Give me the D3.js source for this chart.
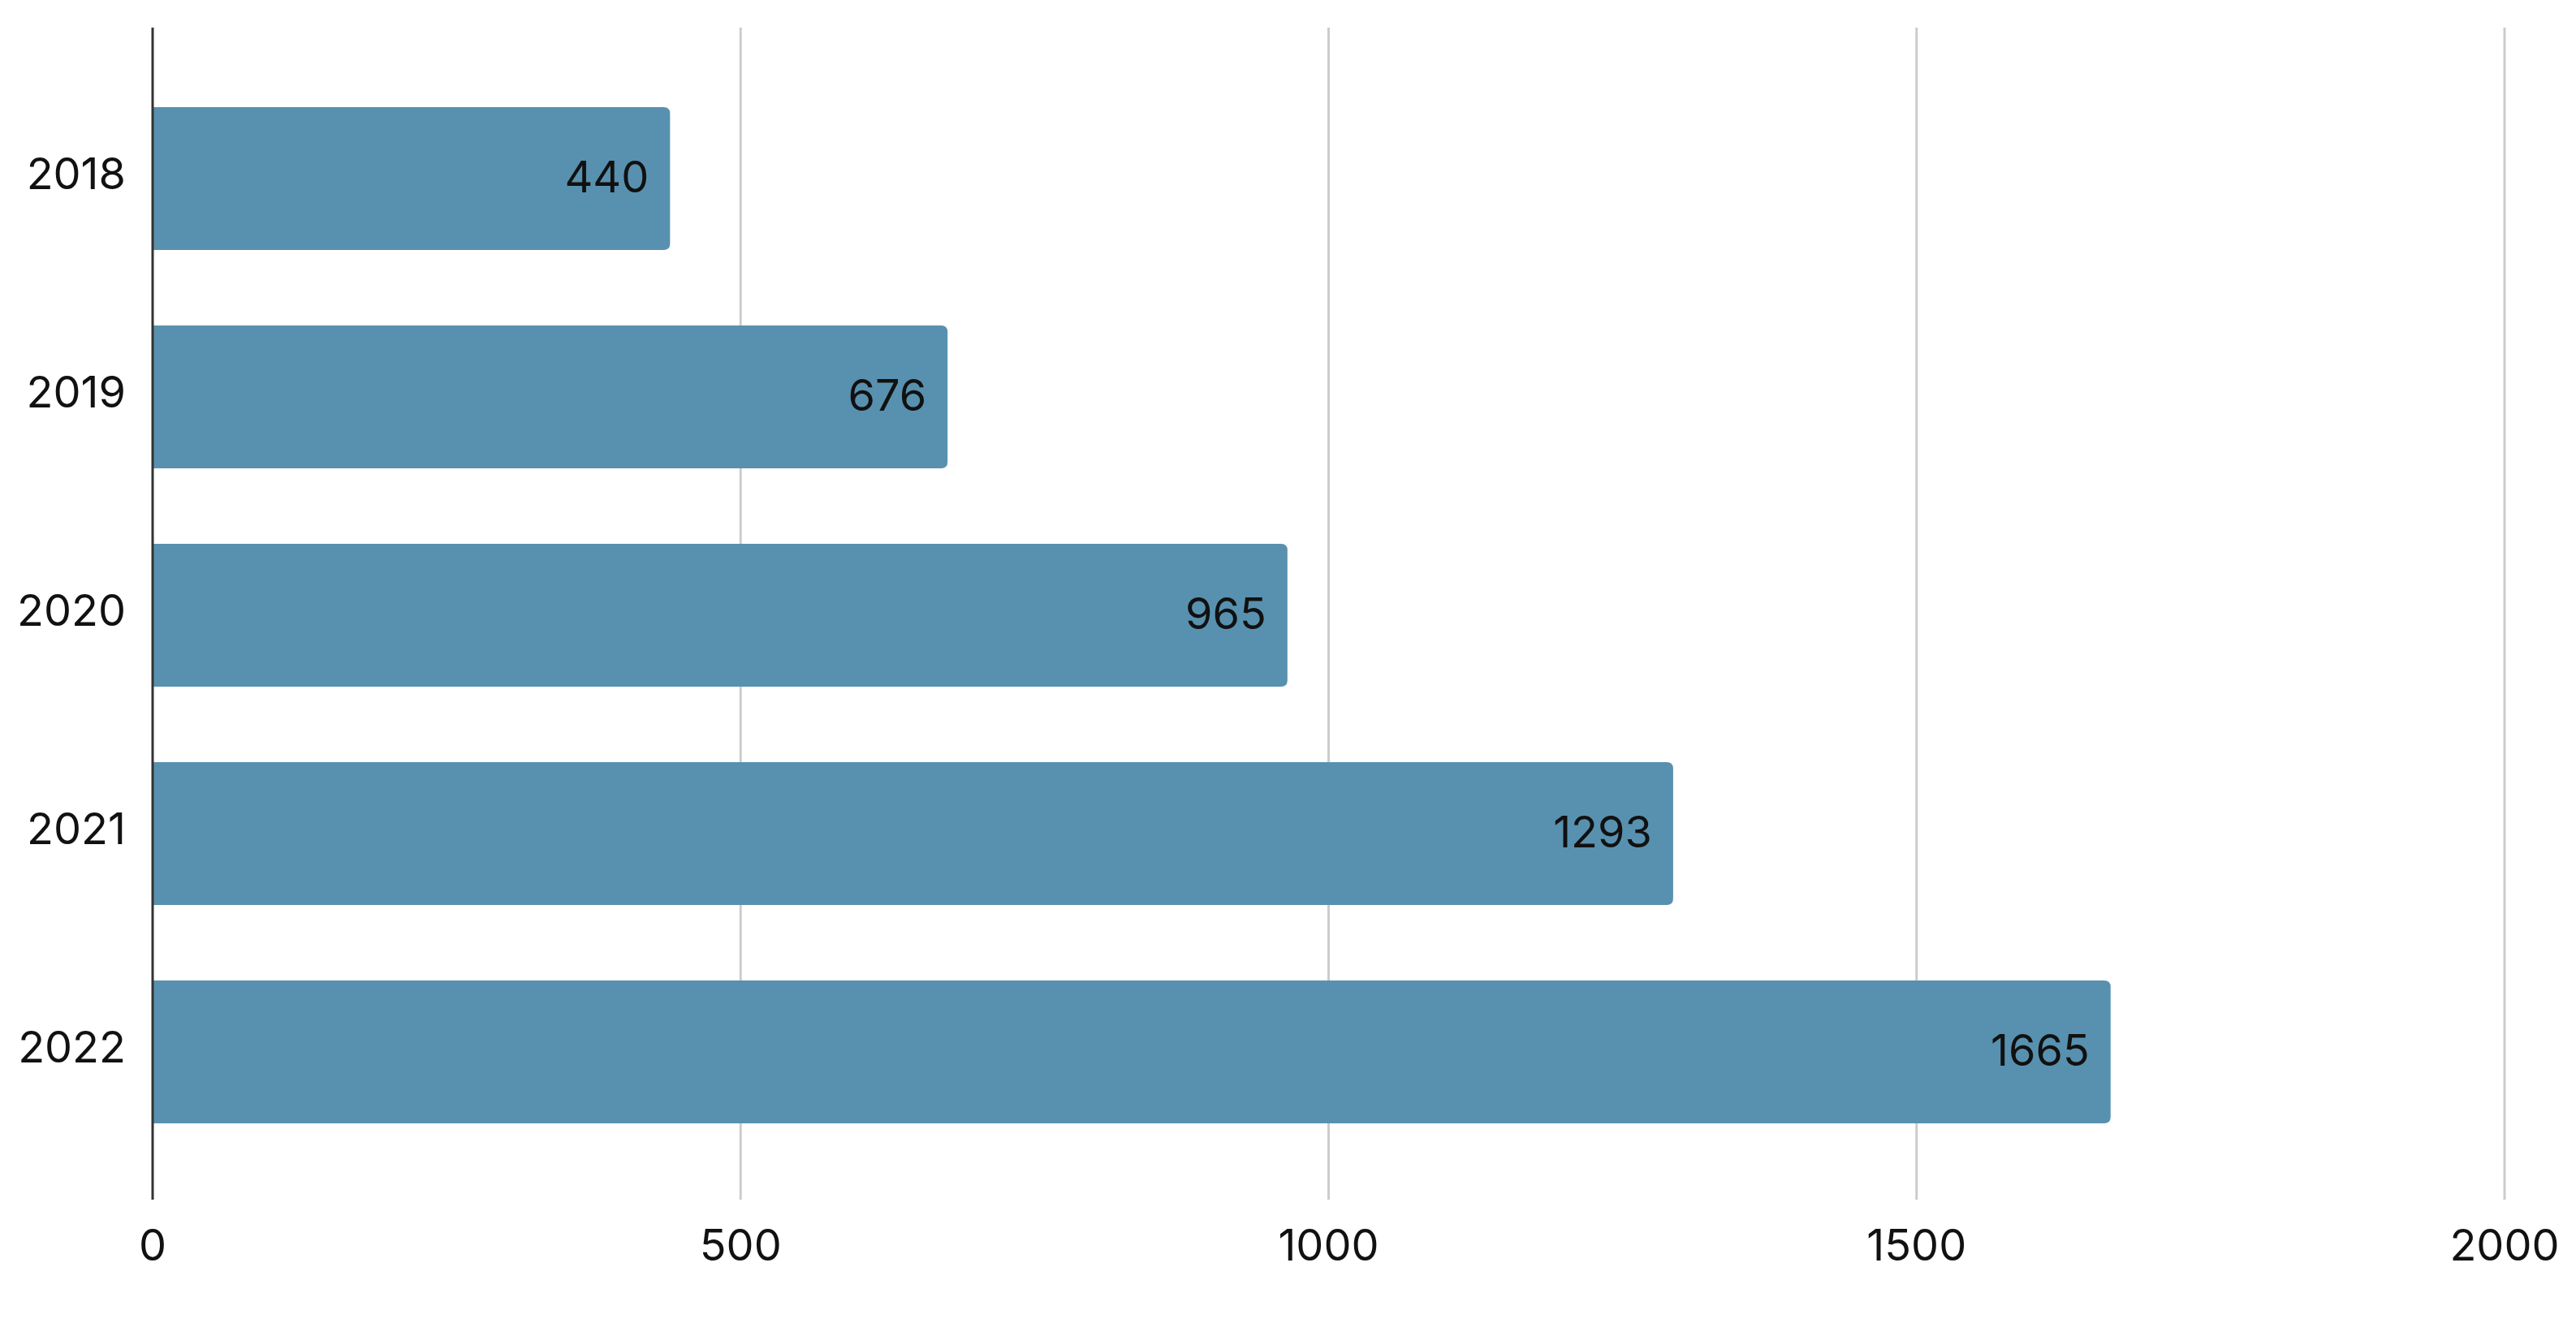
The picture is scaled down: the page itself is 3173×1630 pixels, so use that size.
<!DOCTYPE html>
<html><head><meta charset="utf-8">
<script src="https://cdn.jsdelivr.net/npm/d3@7"></script>
<style>body{margin:0;background:#fff}svg{display:block}text{font-family:Inter,"Noto Sans",sans-serif}</style>
</head><body>
<svg id="c" width="3173" height="1630"></svg>
<script>
const categories = ["2018","2019","2020","2021","2022"];
const values = [440, 676, 965, 1293, 1665];
const ticks = [0, 500, 1000, 1500, 2000];

const svg = d3.select("#c");
const x = d3.scaleLinear().domain([0, 2000]).range([188, 3085]);
const y = d3.scaleBand().domain(categories).range([85.5, 1430.5]).paddingInner(0.346).paddingOuter(0.173);
const plotTop = 34, plotBottom = 1478;

svg.append("g").selectAll("line").data(ticks.slice(1)).join("line")
  .attr("x1", d => x(d)).attr("x2", d => x(d)).attr("y1", plotTop).attr("y2", plotBottom)
  .attr("stroke", "#cccccc").attr("stroke-width", 3);

svg.append("g").selectAll("path").data(values).join("path")
  .attr("fill", "#5891AF")
  .attr("d", (d, i) => {
    const x0 = x(0), x1 = x(d), y0 = y(categories[i]), h = y.bandwidth(), r = 8;
    return `M${x0},${y0}H${x1-r}Q${x1},${y0} ${x1},${y0+r}V${y0+h-r}Q${x1},${y0+h} ${x1-r},${y0+h}H${x0}Z`;
  });

svg.append("line").attr("x1", x(0)).attr("x2", x(0)).attr("y1", plotTop).attr("y2", plotBottom)
  .attr("stroke", "#333").attr("stroke-width", 3);

svg.append("g").selectAll("text").data(values).join("text")
  .attr("x", d => x(d) - 26).attr("y", (d, i) => y(categories[i]) + y.bandwidth()/2 + 2)
  .attr("text-anchor", "end").attr("dominant-baseline", "middle")
  .attr("font-size", 54).attr("fill", "#111").text(d => d);

svg.append("g").selectAll("text").data(categories).join("text")
  .attr("x", 155).attr("y", d => y(d) + y.bandwidth()/2 - 2)
  .attr("text-anchor", "end").attr("dominant-baseline", "middle")
  .attr("font-size", 54).attr("fill", "#111").text(d => d);

svg.append("g").selectAll("text").data(ticks).join("text")
  .attr("x", d => x(d)).attr("y", 1538)
  .attr("text-anchor", "middle").attr("dominant-baseline", "middle")
  .attr("font-size", 54).attr("fill", "#111").text(d => d);
</script>
</body></html>
